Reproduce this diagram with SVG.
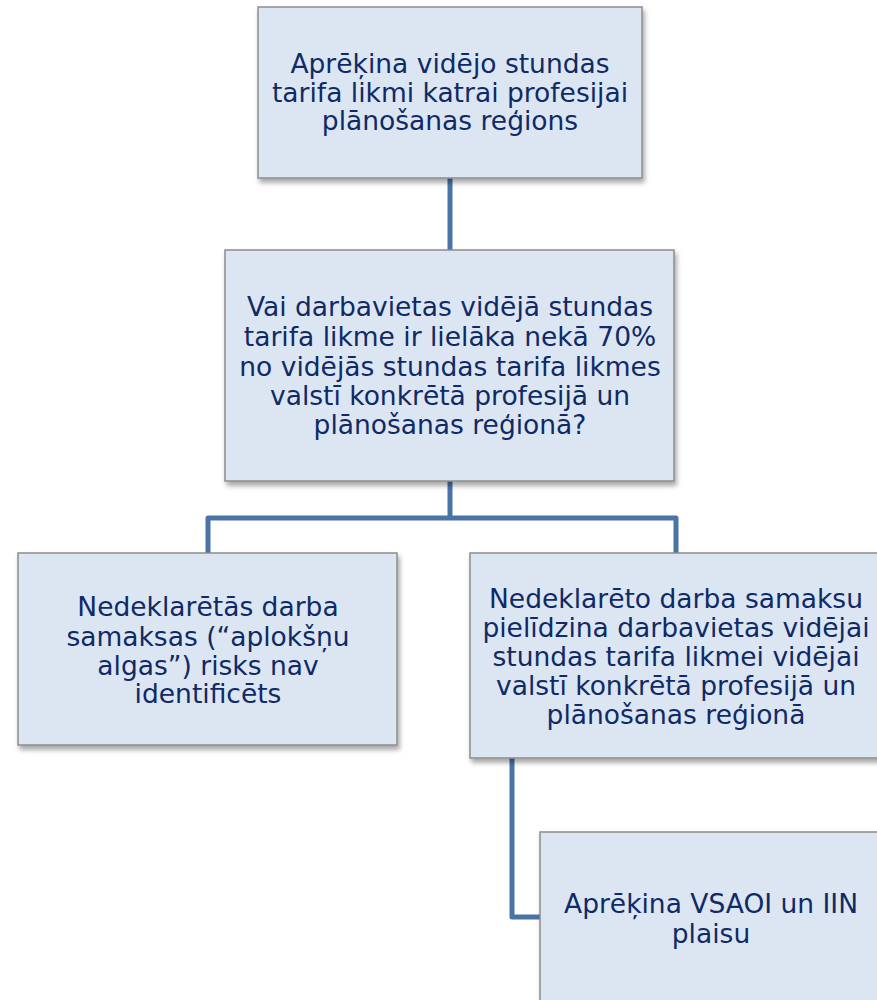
<svg xmlns="http://www.w3.org/2000/svg" width="877" height="1000" viewBox="0 0 877 1000">
<defs>
<filter id="sh" x="-10%" y="-10%" width="125%" height="130%">
<feDropShadow dx="2" dy="4" stdDeviation="2.5" flood-color="#000" flood-opacity="0.35"/>
</filter>
<style>
.box{fill:#dce6f2;stroke:#8c8c8c;stroke-width:1.5;filter:url(#sh)}
.t{font-family:"DejaVu Sans",Verdana,sans-serif;font-size:26.5px;fill:#0f2a66;text-anchor:middle}
.c{fill:none;stroke:#4a73a8;stroke-width:5;stroke-linejoin:round}
</style>
</defs>
<g id="connectors">
<path class="c" d="M450 178 V250"/>
<path class="c" d="M450 481 V518 M208 553 V518 H676 V553"/>
<path class="c" d="M512 758 V917 H540"/>
</g>
<g id="n1">
<rect class="box" x="258" y="7" width="384" height="171"/>
<text class="t"><tspan x="450" y="73">Aprēķina vidējo stundas</tspan><tspan x="450" y="102">tarifa likmi katrai profesijai</tspan><tspan x="450" y="130">plānošanas reģions</tspan></text>
</g>
<g id="n2">
<rect class="box" x="225" y="250" width="449" height="231"/>
<text class="t"><tspan x="450" y="316">Vai darbavietas vidējā stundas</tspan><tspan x="450" y="346">tarifa likme ir lielāka nekā 70%</tspan><tspan x="450" y="376">no vidējās stundas tarifa likmes</tspan><tspan x="450" y="405">valstī konkrētā profesijā un</tspan><tspan x="450" y="434">plānošanas reģionā?</tspan></text>
</g>
<g id="n3">
<rect class="box" x="18" y="553" width="379" height="192"/>
<text class="t"><tspan x="208" y="616">Nedeklarētās darba</tspan><tspan x="208" y="646">samaksas (“aplokšņu</tspan><tspan x="208" y="675">algas”) risks nav</tspan><tspan x="208" y="703">identificēts</tspan></text>
</g>
<g id="n4">
<rect class="box" x="470" y="553" width="412" height="205"/>
<text class="t"><tspan x="676" y="608">Nedeklarēto darba samaksu</tspan><tspan x="676" y="637">pielīdzina darbavietas vidējai</tspan><tspan x="676" y="666">stundas tarifa likmei vidējai</tspan><tspan x="676" y="695">valstī konkrētā profesijā un</tspan><tspan x="676" y="724">plānošanas reģionā</tspan></text>
</g>
<g id="n5">
<rect class="box" x="540" y="832" width="342" height="190"/>
<text class="t"><tspan x="711" y="913">Aprēķina VSAOI un IIN</tspan><tspan x="711" y="943">plaisu</tspan></text>
</g>
</svg>
